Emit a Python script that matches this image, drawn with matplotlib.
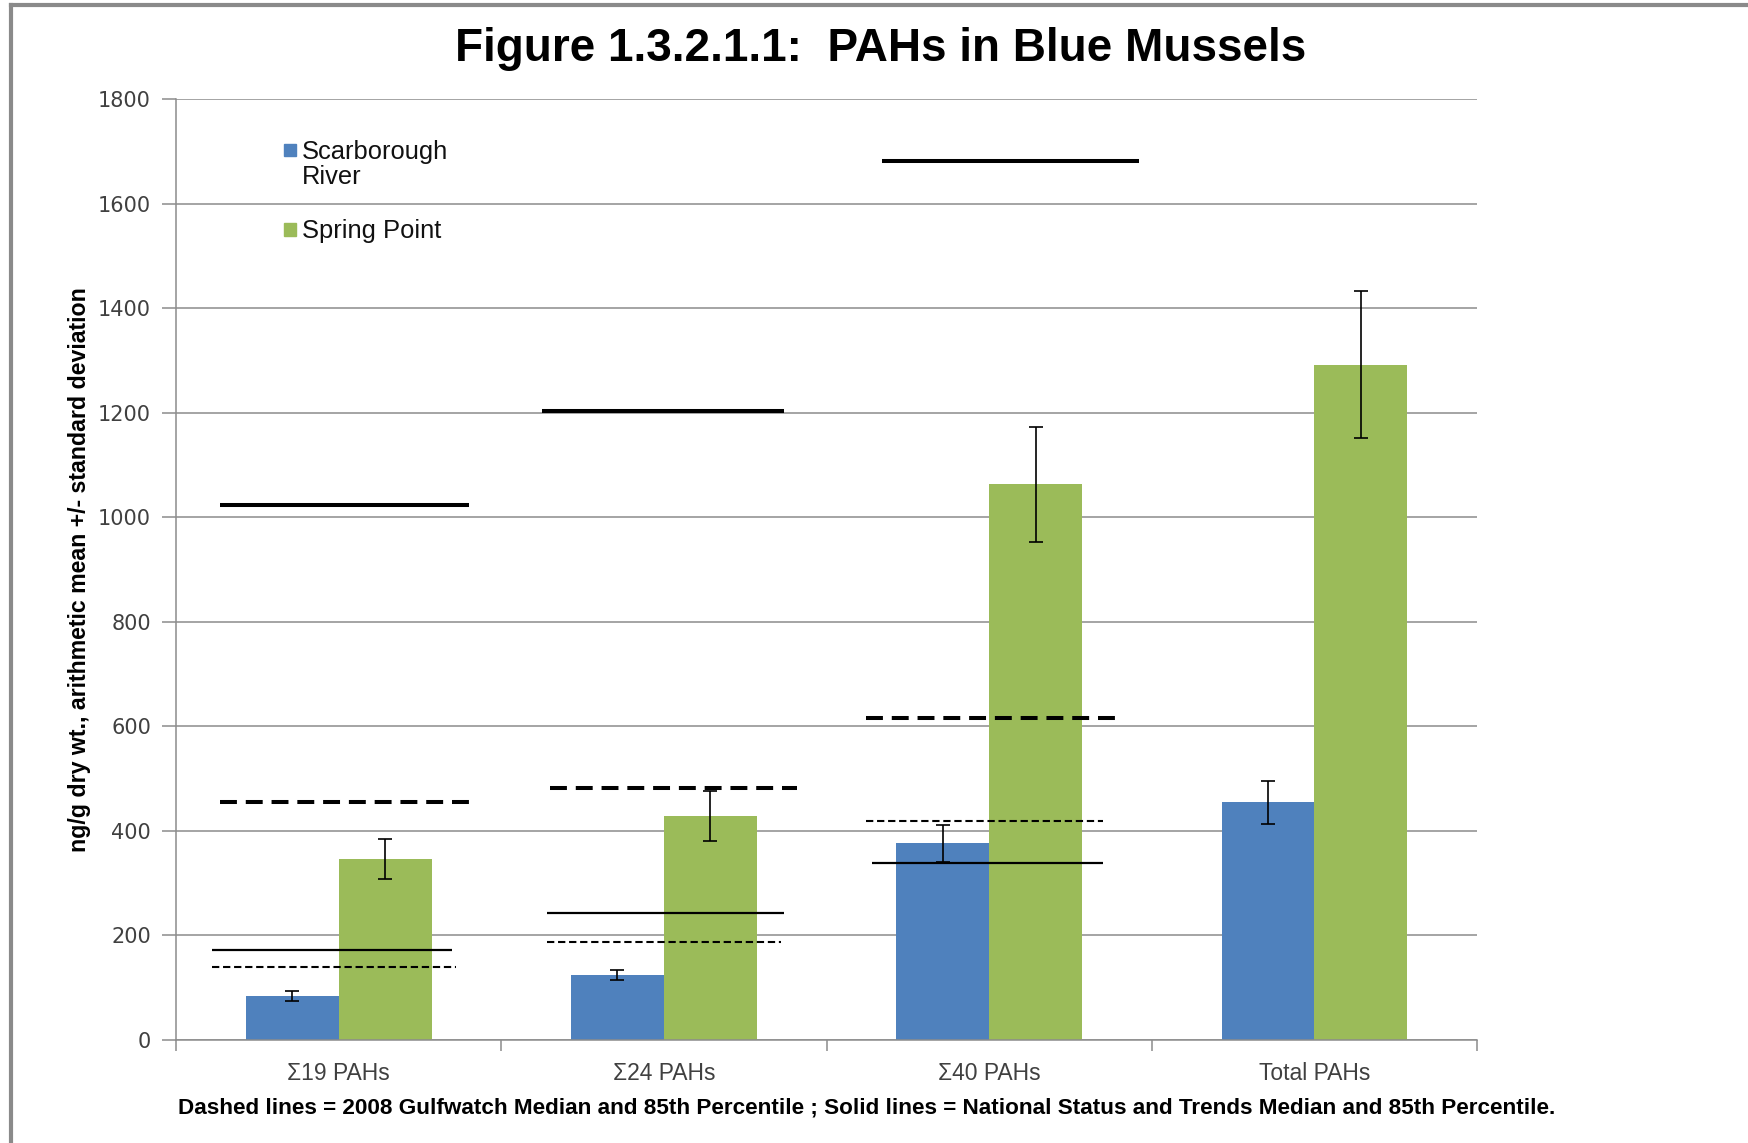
import numpy as np
import matplotlib
matplotlib.use('Agg')
import matplotlib.pyplot as plt
from matplotlib.lines import Line2D
from matplotlib.patches import Rectangle

# data
groups = ['\u03a319 PAHs', '\u03a324 PAHs', '\u03a340 PAHs', 'Total PAHs']
scarborough = [84, 124, 376, 455]
scarborough_sd = [9, 10, 36, 41]
spring_point = [346, 428, 1063, 1292]
spring_point_sd = [38, 48, 110, 140]

# reference levels per group (Total PAHs has none)
nst_85 = [1024, 1203, 1681]      # thick solid
nst_median = [173, 243, 339]     # thin solid
gulf_85 = [456, 482, 616]        # thick dashed
gulf_median = [139, 188, 418]    # thin dashed

# horizontal extent of the reference lines around each group centre
nst_85_span = [(-0.365, 0.40), (-0.375, 0.37), (-0.33, 0.46)]
nst_med_span = [(-0.39, 0.35), (-0.36, 0.37), (-0.36, 0.35)]
gulf_85_span = [(-0.365, 0.40), (-0.35, 0.41), (-0.38, 0.39)]
gulf_med_span = [(-0.39, 0.36), (-0.36, 0.36), (-0.38, 0.35)]

blue = '#4F81BD'
green = '#9BBB59'

fig = plt.figure(figsize=(17.48, 11.43), dpi=100)
ax = fig.add_axes([0.1007, 0.0901, 0.7443, 0.8233])

x = np.arange(len(groups))
w = 0.2857
ax.bar(x - w / 2, scarborough, w, color=blue, zorder=2)
ax.bar(x + w / 2, spring_point, w, color=green, zorder=2)
ax.errorbar(x - w / 2, scarborough, yerr=scarborough_sd, fmt='none', ecolor='black',
            elinewidth=1.2, capsize=5, capthick=1.2, zorder=3)
ax.errorbar(x + w / 2, spring_point, yerr=spring_point_sd, fmt='none', ecolor='black',
            elinewidth=1.2, capsize=5, capthick=1.2, zorder=3)

for i in range(len(nst_85)):
    ax.plot([i + nst_85_span[i][0], i + nst_85_span[i][1]], [nst_85[i]] * 2,
            color='black', lw=2.9, solid_capstyle='butt', zorder=4)
    ax.plot([i + nst_med_span[i][0], i + nst_med_span[i][1]], [nst_median[i]] * 2,
            color='black', lw=1.6, solid_capstyle='butt', zorder=4)
    ax.plot([i + gulf_85_span[i][0], i + gulf_85_span[i][1]], [gulf_85[i]] * 2,
            color='black', lw=2.9, dashes=(4.2, 2.2), dash_capstyle='butt', zorder=4)
    ax.plot([i + gulf_med_span[i][0], i + gulf_med_span[i][1]], [gulf_median[i]] * 2,
            color='black', lw=1.5, dashes=(3.5, 1.8), dash_capstyle='butt', zorder=4)

ax.set_xlim(-0.5, len(groups) - 0.5)
ax.set_ylim(0, 1800)
ax.set_yticks(np.arange(0, 1801, 200))
ax.yaxis.grid(True, color='#8c8c8c', lw=1.1, zorder=0)
ax.set_axisbelow(True)

ax.set_xticks(np.arange(-0.5, len(groups), 1.0))
ax.set_xticklabels([])
ax.set_xticks(x, minor=True)
ax.set_xticklabels(groups, minor=True, fontsize=16.5, color='#404040',
                   family='Liberation Sans')
ax.tick_params(axis='x', which='minor', length=0, pad=16)
ax.tick_params(axis='x', which='major', length=8, color='#8c8c8c', width=1.1)
ax.tick_params(axis='y', length=10, color='#8c8c8c', width=1.1, labelsize=15,
               labelcolor='#404040', pad=8)
for lab in ax.get_yticklabels():
    lab.set_family('DejaVu Sans')

for s in ['top', 'right']:
    ax.spines[s].set_visible(False)
for s in ['left', 'bottom']:
    ax.spines[s].set_color('#8c8c8c')
    ax.spines[s].set_linewidth(1.1)

ax.set_ylabel('ng/g dry wt., arithmetic mean +/- standard deviation', fontsize=16.7,
              fontweight='bold', family='Liberation Sans')
ax.yaxis.set_label_coords(-0.065, 0.5)

fig.text(0.504, 0.957, 'Figure 1.3.2.1.1:  PAHs in Blue Mussels', ha='center', va='center',
         fontsize=33, fontweight='bold', family='Liberation Sans')
fig.text(0.4956, 0.031,
         'Dashed lines = 2008 Gulfwatch Median and 85th Percentile ; '
         'Solid lines = National Status and Trends Median and 85th Percentile.',
         ha='center', va='center', fontsize=16.2, fontweight='bold', family='Liberation Sans')

# legend, laid out like the original (square beside the first line of each label)
leg_labels = ['Scarborough\nRiver', 'Spring Point']
leg_colors = [blue, green]
leg_y = [0.9455, 0.8614]
for lab, col, yy in zip(leg_labels, leg_colors, leg_y):
    ax.add_patch(Rectangle((0.0831, yy - 0.0065), 0.0092, 0.013, transform=ax.transAxes,
                           color=col, clip_on=False, zorder=5))
    ax.text(0.0968, yy + 0.011, lab, transform=ax.transAxes, ha='left', va='top',
            fontsize=18.4, family='Liberation Sans', color='#111111', linespacing=1.05, zorder=5)

# outer frame of the original graphic
fig.add_artist(Line2D([11 / 1748, 1.0], [1 - 5 / 1143] * 2, transform=fig.transFigure,
                      color='#8a8a8a', lw=3))
fig.add_artist(Line2D([11 / 1748] * 2, [0.0, 1 - 5 / 1143], transform=fig.transFigure,
                      color='#8a8a8a', lw=3))

fig.savefig('out.png', dpi=100)
